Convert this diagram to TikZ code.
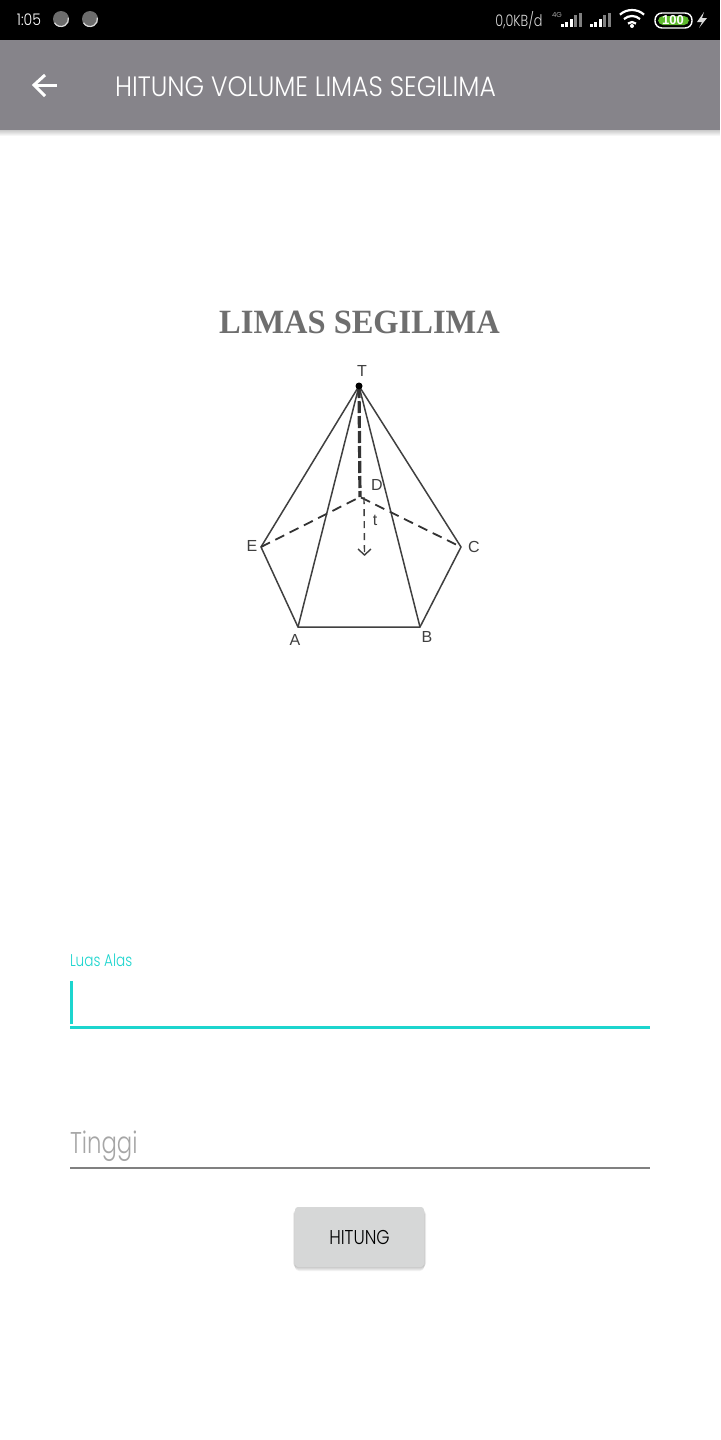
\documentclass[tikz,border=0pt]{standalone}
\usepackage{fontspec}
\setmainfont{Liberation Sans}
\newfontfamily\thinfont{Poppins Light}
\newfontfamily\titlefont{Liberation Serif}
\usetikzlibrary{arrows.meta}
\definecolor{barcol}{HTML}{86848A}
\definecolor{tealcol}{HTML}{1CD5CE}
\definecolor{titlecol}{HTML}{6E6E6E}
\definecolor{btncol}{HTML}{D6D7D7}
\definecolor{battcol}{HTML}{5DB82D}
\tikzset{every node/.style={inner sep=0pt,outer sep=0pt},
  edge/.style={line width=0.75pt,color=black!75},
  hidden/.style={line width=0.9pt,color=black!80,dash pattern=on 5pt off 3pt},
  vertex/.style={font=\fontsize{8}{8}\selectfont,color=black!75},
  thin text/.style={font=\thinfont\fontsize{#1}{#1}\selectfont}}
\newcommand{\signalbars}[2]
{\foreach \i/\t in {0/24,1/22,2/19,3/15,4/13}
  {\ifnum\i<#2 \def\barc{white}\else \def\barc{gray}\fi
   \fill[\barc] (#1+\i*4.4,\t) rectangle ++(3,27-\t);}}
\begin{document}
\begin{tikzpicture}[x=0.5pt,y=-0.5pt]
\useasboundingbox[fill=white] (0,0) rectangle (720,1440);
% status bar
\fill[black] (0,0) rectangle (720,40);
\node[thin text=8,white,xscale=0.88] (clock) at (29,20) {1:05};
\foreach \x in {61,90}
  {\fill[gray!85!black] (\x,19) circle (8);
   \draw[white!85!black,line width=0.6pt] (\x,19)+(150:7.5) arc (150:-10:7.5);}
\node[thin text=8,white!85!black,xscale=0.8] (speed) at (519,20) {0,0KB/d};
\node[thin text=3.5,white!80!black] (fourg) at (557,15) {4G};
\signalbars{561}{3}
\signalbars{590}{3}
% wifi
\foreach \r in {6,12,18}
  \draw[white,line width=1.1pt] (632,28)+(-48:\r) arc (-48:-132:\r);
\fill[white] (632,26) circle (2);
% battery
\draw[white,line width=0.7pt,rounded corners=3.5pt] (655,13) rectangle (692,28);
\fill[battcol,rounded corners=2.5pt] (658,16) rectangle (689,25);
\node[font=\bfseries\fontsize{6.5}{6.5}\selectfont,white] (batt) at (673,20.5) {100};
\fill[white!85!black] (704,12) -- (697,22) -- (702,22) -- (699,28) -- (707,18) -- (702,18) -- cycle;
% app bar
\foreach \i in {0,...,6}
  \fill[black,opacity=0.035] (0,130) rectangle (720,136-\i);
\fill[barcol] (0,40) rectangle (720,130);
\coordinate (backend) at (57,85);
\coordinate (backtip) at (34,85);
\coordinate (backup) at (45,75);
\coordinate (backdown) at (45,96);
\draw[white,line width=1.5pt] (backend) -- (backtip);
\draw[white,line width=1.5pt] (backup) -- (backtip) -- (backdown);
\node[thin text=14,white,anchor=west,xscale=0.895] (header) at (115,87) {HITUNG VOLUME LIMAS SEGILIMA};
% title
\node[font=\titlefont\bfseries\fontsize{17}{17}\selectfont,titlecol,xscale=0.955] (title) at (359.5,322) {LIMAS SEGILIMA};
% pyramid
\coordinate (T) at (359,386);
\coordinate (E) at (261,547);
\coordinate (C) at (461,547);
\coordinate (A) at (298,627);
\coordinate (B) at (420,627);
\coordinate (D) at (360,497);
\coordinate (H) at (364,497);
\coordinate (F) at (364.5,555);
\draw[edge] (T) -- (E) -- (A) -- (B) -- (C) -- (T);
\draw[edge] (A) -- (T) -- (B);
\draw[hidden] (E) -- (D) -- (C);
\draw[line width=1.6pt,color=black!80,dash pattern=on 6pt off 1.5pt] (T) -- (D);
\draw[line width=0.7pt,color=black!75,dash pattern=on 3.5pt off 2.5pt] (H) -- (F);
\draw[line width=0.7pt,color=black!75] (358,549) -- (F) -- (371,549);
\fill[black] (T) circle (3.5);
\node[vertex] (Tlabel) at (362,371) {T};
\node[vertex] (Dlabel) at (377,485) {D};
\node[vertex] (tlabel) at (375,520) {t};
\node[vertex] (Elabel) at (252,546) {E};
\node[vertex] (Clabel) at (474,547) {C};
\node[vertex] (Alabel) at (295,640) {A};
\node[vertex] (Blabel) at (427,637) {B};
% first field
\node[thin text=8.5,tealcol,anchor=west,xscale=0.8] (luas) at (70,960) {Luas Alas};
\coordinate (cursortop) at (71.5,981);
\coordinate (cursorbot) at (71.5,1024);
\draw[tealcol,line width=1.5pt] (cursortop) -- (cursorbot);
\coordinate (lineAl) at (70,1027.5);
\coordinate (lineAr) at (650,1027.5);
\draw[tealcol,line width=1.5pt] (lineAl) -- (lineAr);
% second field
\node[thin text=15,gray!70,anchor=west,xscale=0.76] (tinggi) at (70,1146) {Tinggi};
\coordinate (lineBl) at (70,1168);
\coordinate (lineBr) at (650,1168);
\draw[gray,line width=1pt] (lineBl) -- (lineBr);
% button
\foreach \i in {0,...,4}
  \fill[black,opacity=0.05,rounded corners=2pt] (295-\i*0.5,1210) rectangle (424+\i*0.5,1271-\i);
\node[fill=btncol,rounded corners=1.5pt,minimum width=64.5pt,minimum height=30pt,
  thin text=10,text=black] (hitung) at (359.5,1237) {\scalebox{0.85}[1]{HITUNG}};
\end{tikzpicture}
\end{document}
